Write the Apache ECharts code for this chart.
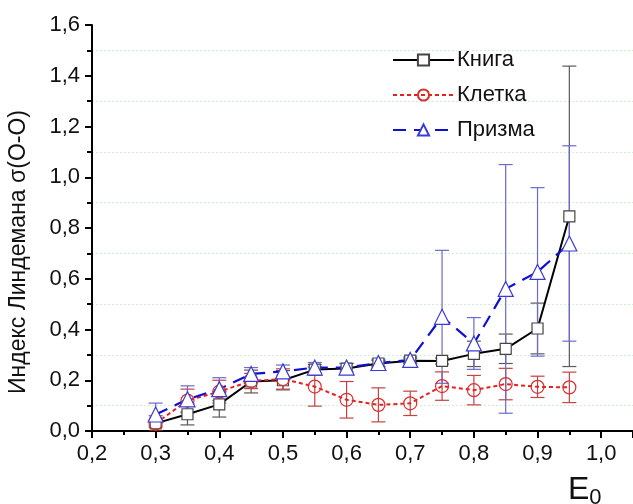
<!DOCTYPE html>
<html>
<head>
<meta charset="utf-8">
<script src="https://cdn.jsdelivr.net/npm/echarts@6/dist/echarts.min.js"></script>
<style>html,body{margin:0;padding:0;background:#fff}#c{width:633px;height:504px}</style>
</head>
<body>
<div id="c"></div>
<script>
const xValues = [0.3, 0.35, 0.4, 0.45, 0.5, 0.55, 0.6, 0.65, 0.7, 0.75, 0.8, 0.85, 0.9, 0.95];
const knigaY   = [0.030, 0.066, 0.105, 0.195, 0.200, 0.242, 0.246, 0.266, 0.277, 0.276, 0.304, 0.324, 0.404, 0.846];
const knigaErr = [0.015, 0.042, 0.050, 0.045, 0.038, 0.020, 0.020, 0.012, 0.010, 0.012, 0.050, 0.058, 0.100, 0.592];
const kletkaY   = [0.030, 0.120, 0.155, 0.197, 0.205, 0.175, 0.123, 0.103, 0.109, 0.177, 0.161, 0.185, 0.174, 0.172];
const kletkaErr = [0.030, 0.045, 0.045, 0.030, 0.040, 0.077, 0.072, 0.067, 0.048, 0.056, 0.058, 0.062, 0.042, 0.060];
const prizmaY   = [0.065, 0.125, 0.165, 0.225, 0.235, 0.250, 0.250, 0.268, 0.280, 0.450, 0.345, 0.560, 0.627, 0.739];
const prizmaErr = [0.045, 0.053, 0.045, 0.025, 0.025, 0.020, 0.016, 0.015, 0.012, 0.262, 0.102, 0.490, 0.332, 0.385];
const seriesNames = ['Книга', 'Клетка', 'Призма'];
const yAxisTitle = 'Индекс Линдемана σ(O-O)';

const FONT = '"Liberation Sans", Arial, sans-serif';
const chart = echarts.init(document.getElementById('c'), null, {renderer: 'canvas'});

function pts(ys) { return xValues.map((x, i) => [x, ys[i]]); }
function errs(ys, es) { return xValues.map((x, i) => [x, ys[i] - es[i], ys[i] + es[i]]); }

function errSeries(ys, es, color) {
  return {
    type: 'custom',
    silent: true,
    clip: true,
    z: 1,
    data: errs(ys, es),
    renderItem: function (params, api) {
      const lo = api.coord([api.value(0), api.value(1)]);
      const hi = api.coord([api.value(0), api.value(2)]);
      const w = 7;
      const st = {stroke: color, lineWidth: 1.2};
      return {
        type: 'group',
        children: [
          {type: 'line', shape: {x1: lo[0], y1: lo[1], x2: hi[0], y2: hi[1]}, style: st},
          {type: 'line', shape: {x1: lo[0] - w, y1: lo[1], x2: lo[0] + w, y2: lo[1]}, style: st},
          {type: 'line', shape: {x1: hi[0] - w, y1: hi[1], x2: hi[0] + w, y2: hi[1]}, style: st}
        ]
      };
    }
  };
}

const fmt = v => (Math.round(v * 10) / 10).toFixed(1).replace('.', ',');

chart.setOption({
  animation: false,
  backgroundColor: '#fff',
  grid: {left: 92, right: -8, top: 25, bottom: 73, containLabel: false},
  xAxis: {
    type: 'value', min: 0.2, max: 1.05, interval: 0.1,
    axisLine: {show: true, onZero: false, lineStyle: {color: '#000', width: 2}},
    axisTick: {show: true, length: 7, lineStyle: {color: '#000', width: 2}},
    minorTick: {show: true, splitNumber: 2, length: 4, lineStyle: {color: '#000', width: 2}},
    splitLine: {show: false},
    axisLabel: {color: '#111', fontSize: 22, fontFamily: FONT, margin: 12, showMaxLabel: false, formatter: fmt}
  },
  yAxis: {
    type: 'value', min: 0, max: 1.6, interval: 0.2,
    axisLine: {show: true, lineStyle: {color: '#000', width: 2}},
    axisTick: {show: true, length: 7, lineStyle: {color: '#000', width: 2}},
    minorTick: {show: true, splitNumber: 2, length: 5, lineStyle: {color: '#000', width: 2}},
    splitLine: {show: false},
    minorSplitLine: {show: true, lineStyle: {color: '#d2efd2', width: 1, type: [2, 2]}},
    axisLabel: {color: '#111', fontSize: 22, fontFamily: FONT, margin: 12, formatter: fmt}
  },
  legend: {
    left: 387, top: 44, orient: 'vertical',
    itemWidth: 61, itemHeight: 14, itemGap: 13,
    textStyle: {color: '#111', fontSize: 22, fontFamily: FONT, lineHeight: 22, padding: [0, 0, 0, -2]},
    data: seriesNames
  },
  graphic: [
    {
      type: 'text', x: 19, y: 252, rotation: Math.PI / 2,
      style: {text: yAxisTitle, fill: '#111', font: '23px ' + FONT, align: 'center', verticalAlign: 'middle'}
    },
    {
      type: 'text', x: 568, y: 472,
      style: {
        text: '{a|E}{b|0}', fill: '#111',
        rich: {a: {fontSize: 32, fontFamily: FONT, fill: '#111'}, b: {fontSize: 22, fontFamily: FONT, fill: '#111', padding: [15, 0, 0, 0]}}
      }
    }
  ],
  series: [
    errSeries(knigaY, knigaErr, '#5a5a5a'),
    errSeries(kletkaY, kletkaErr, '#c84040'),
    errSeries(prizmaY, prizmaErr, '#6a6ad0'),
    {
      name: 'Книга', type: 'line', data: pts(knigaY), z: 3,
      symbol: 'rect', symbolSize: 11,
      lineStyle: {color: '#000', width: 2, type: 'solid'},
      itemStyle: {color: '#fff', borderColor: '#444', borderWidth: 1.2}
    },
    {
      name: 'Клетка', type: 'line', data: pts(kletkaY), z: 3,
      symbol: 'circle', symbolSize: 13,
      lineStyle: {color: '#e82020', width: 2, type: [4, 3]},
      itemStyle: {color: 'rgba(255,255,255,0)', borderColor: '#d83030', borderWidth: 1.2}
    },
    {
      name: 'Призма', type: 'line', data: pts(prizmaY), z: 3,
      symbol: 'triangle', symbolSize: 15,
      lineStyle: {color: '#1010d0', width: 2.2, type: [13, 8]},
      itemStyle: {color: '#fff', borderColor: '#3a3ad8', borderWidth: 1.2}
    }
  ]
});
</script>
</body>
</html>
